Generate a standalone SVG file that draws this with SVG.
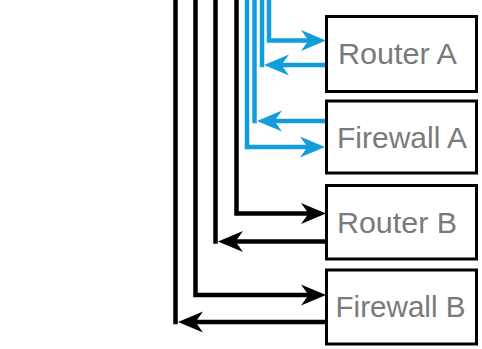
<svg xmlns="http://www.w3.org/2000/svg" width="482" height="349" viewBox="0 0 482 349">
  <style>
    .box { fill: #ffffff; stroke: #000000; stroke-width: 3; }
    .lbl { font-family: "Liberation Sans", Arial, sans-serif; font-size: 29px; fill: #7a7a7a; }
    .blue { fill: none; stroke: #139ddc; stroke-width: 4.5; stroke-linejoin: miter; }
    .black { fill: none; stroke: #000000; stroke-width: 4.5; stroke-linejoin: miter; }
  </style>
  <defs>
    <marker id="arrBlue" markerUnits="userSpaceOnUse" viewBox="-16 -12 28 24" markerWidth="28" markerHeight="24" refX="0" refY="0" orient="auto">
      <path d="M10,0 L-15,-10.5 L-7.5,0 L-15,10.5 Z" fill="#139ddc"/>
    </marker>
    <marker id="arrBlack" markerUnits="userSpaceOnUse" viewBox="-16 -12 28 24" markerWidth="28" markerHeight="24" refX="0" refY="0" orient="auto">
      <path d="M10,0 L-15,-10.5 L-7.5,0 L-15,10.5 Z" fill="#000000"/>
    </marker>
  </defs>
  <g id="connectors">
    <path class="blue" d="M269,-5 V40.5 H316" marker-end="url(#arrBlue)"/>
    <path class="blue" d="M262,-5 V67.2"/>
    <path class="blue" d="M326,65 H274" marker-end="url(#arrBlue)"/>
    <path class="blue" d="M254.5,-5 V123.2"/>
    <path class="blue" d="M326,121 H267" marker-end="url(#arrBlue)"/>
    <path class="blue" d="M247,-5 V147 H315" marker-end="url(#arrBlue)"/>
    <path class="black" d="M236.5,-5 V213.5 H316" marker-end="url(#arrBlack)"/>
    <path class="black" d="M215.5,-5 V243.7"/>
    <path class="black" d="M326,241.5 H228" marker-end="url(#arrBlack)"/>
    <path class="black" d="M195.5,-5 V295 H316" marker-end="url(#arrBlack)"/>
    <path class="black" d="M175.5,-5 V324.2"/>
    <path class="black" d="M326,322 H188" marker-end="url(#arrBlack)"/>
  </g>
  <g id="routerA">
    <rect class="box" x="326.5" y="16.5" width="150" height="75"/>
    <text class="lbl" x="338" y="63.5" textLength="119" lengthAdjust="spacingAndGlyphs">Router A</text>
  </g>
  <g id="firewallA">
    <rect class="box" x="326.5" y="101" width="150" height="72"/>
    <text class="lbl" x="337" y="147.5" textLength="130" lengthAdjust="spacingAndGlyphs">Firewall A</text>
  </g>
  <g id="routerB">
    <rect class="box" x="326.5" y="185.5" width="150" height="73.5"/>
    <text class="lbl" x="337" y="232.5" textLength="120" lengthAdjust="spacingAndGlyphs">Router B</text>
  </g>
  <g id="firewallB">
    <rect class="box" x="326.5" y="270" width="150" height="74"/>
    <text class="lbl" x="335.5" y="316.5" textLength="130" lengthAdjust="spacingAndGlyphs">Firewall B</text>
  </g>
</svg>
